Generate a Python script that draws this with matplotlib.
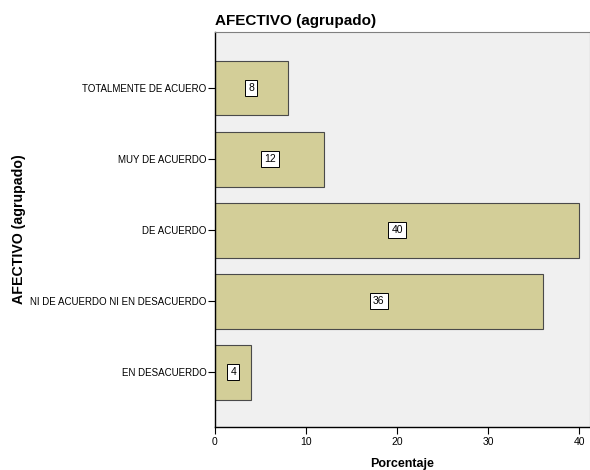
import matplotlib
matplotlib.use("Agg")
import matplotlib.pyplot as plt

plt.rcParams['font.family'] = ['Liberation Sans', 'DejaVu Sans']

categories = ["TOTALMENTE DE ACUERO", "MUY DE ACUERDO", "DE ACUERDO",
              "NI DE ACUERDO NI EN DESACUERDO", "EN DESACUERDO"]
values = [8, 12, 40, 36, 4]
xticks = [0, 10, 20, 30, 40]

fig = plt.figure(figsize=(5.9, 4.7), dpi=100)
ax = fig.add_axes([215/590, 43/470, 375/590, 395/470])
ax.set_facecolor('#F0F0F0')

pos = list(range(len(categories)))
ax.barh(pos, values, height=0.77, color='#D3CE98', edgecolor='#4a4a4a', linewidth=0.8)
for p, v in zip(pos, values):
    ax.text(v / 2, p, str(v), ha='center', va='center', fontsize=7.5,
            bbox=dict(boxstyle='square,pad=0.3', fc='white', ec='black', lw=0.7))

ax.set_ylim(4.77, -0.79)
ax.set_xlim(0, 41.2)
ax.set_yticks(pos)
ax.set_yticklabels(categories, fontsize=7)
ax.set_xticks(xticks)
ax.set_xticklabels([str(t) for t in xticks], fontsize=7.5)
ax.tick_params(axis='y', length=5, width=0.8, color='black', pad=1)
ax.tick_params(axis='x', length=5, width=0.8, color='black', pad=2)

for s in ['top', 'right']:
    ax.spines[s].set_color('#808080')
    ax.spines[s].set_linewidth(0.8)
for s in ['left', 'bottom']:
    ax.spines[s].set_color('black')
    ax.spines[s].set_linewidth(1.0)

ax.set_title("AFECTIVO (agrupado)", loc='left', fontsize=11, fontweight='bold', pad=5)
ax.set_xlabel("Porcentaje", fontsize=9, fontweight='bold', labelpad=8)
ax.set_ylabel("AFECTIVO (agrupado)", fontsize=10.2, fontweight='bold')
ax.yaxis.set_label_coords(-0.505, 0.5)

fig.savefig("out.png", dpi=100)
